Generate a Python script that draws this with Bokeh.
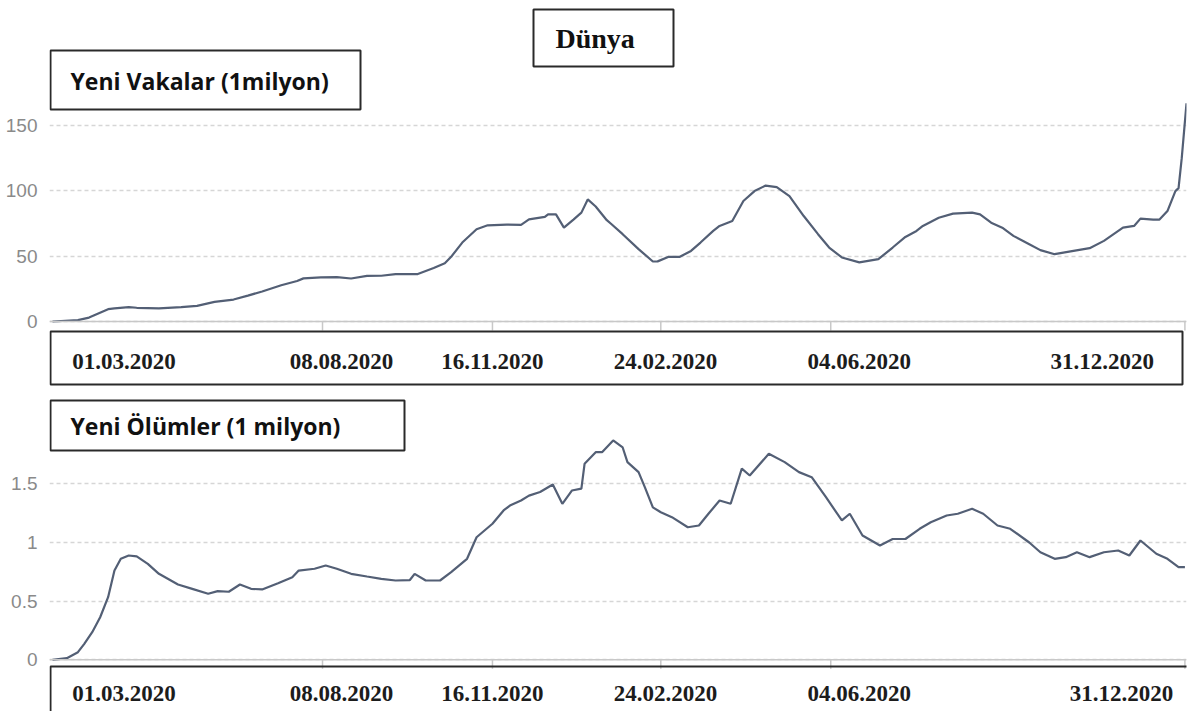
from bokeh.plotting import figure
from bokeh.layouts import column
from bokeh.models import (Range1d, FixedTicker, NumeralTickFormatter, Label,
                          BoxAnnotation, Span)
from bokeh.core.properties import value
from bokeh.embed import file_html
from bokeh.resources import INLINE

# ---------------- data ----------------
case_days = [0, 16, 23, 35, 39, 48, 53, 67, 81, 91, 102, 114, 123, 132, 144, 154,
             158, 169, 179, 188, 198, 207, 216, 230, 240, 247, 251, 258, 267, 274,
             286, 295, 300, 310, 312, 317, 322, 328, 333, 337, 342, 349, 352, 359,
             369, 378, 381, 388, 395, 402, 408, 416, 420, 428, 435, 442, 449, 456,
             464, 473, 482, 489, 497, 508, 520, 529, 537, 544, 548, 558, 567, 579,
             584, 591, 598, 605, 615, 622, 631, 641, 653, 662, 674, 681, 685, 693,
             697, 702, 707, 709, 711, 714]
case_values = [0, 1, 3, 9.4, 10, 11, 10.5, 10, 11, 12, 15, 16.8, 19.8, 23, 27.7, 31,
               33, 33.8, 34, 32.9, 34.9, 35, 36.3, 36.3, 40.9, 44.5, 49.5, 60.4, 70.6, 73.6,
               74.1, 74, 78.2, 80, 82, 82, 71.8, 78, 83.3, 93.4, 88, 77.5, 74.4, 66.8,
               55.4, 45.9, 46, 49.5, 49.5, 54, 60.4, 69.3, 73.1, 76.9, 92.2, 99.8, 104, 102.8,
               96, 80.7, 66.8, 56.6, 49, 45.2, 47.7, 56.6, 64.7, 69.3, 73.1, 79.4, 82.5, 83.3,
               82, 75.6, 71.8, 65.5, 59.1, 54.6, 51.5, 53.6, 56.1, 61.7, 71.8, 73.1, 78.7, 78,
               78, 84.5, 99.8, 102, 125, 167]

death_days = [0, 9, 16, 20, 25, 30, 35, 39, 43, 48, 53, 60, 67, 79, 88, 98, 104, 111,
              118, 125, 132, 142, 151, 155, 165, 172, 179, 188, 198, 207, 216, 225, 228,
              235, 244, 251, 261, 267, 277, 284, 288, 295, 300, 307, 315, 321, 327, 333,
              335, 342, 346, 353, 359, 362, 369, 373, 378, 383, 390, 400, 407, 413, 420,
              427, 434, 439, 451, 461, 470, 478, 487, 497, 502, 510, 521, 529, 537, 546,
              553, 563, 570, 579, 586, 595, 603, 615, 622, 631, 638, 645, 653, 662, 671,
              678, 685, 695, 702, 709, 713]
death_values = [0, 0.014, 0.065, 0.136, 0.235, 0.363, 0.534, 0.761, 0.861, 0.889, 0.881,
                0.818, 0.733, 0.642, 0.605, 0.563, 0.585, 0.58, 0.642, 0.605, 0.6, 0.653,
                0.704, 0.761, 0.776, 0.804, 0.776, 0.733, 0.71, 0.69, 0.676, 0.68, 0.733,
                0.676, 0.676, 0.747, 0.861, 1.045, 1.16, 1.273, 1.315, 1.358, 1.4, 1.43,
                1.494, 1.33, 1.443, 1.459, 1.671, 1.77, 1.77, 1.87, 1.81, 1.685, 1.6, 1.47,
                1.3, 1.258, 1.216, 1.13, 1.145, 1.245, 1.358, 1.33, 1.63, 1.571, 1.756,
                1.685, 1.6, 1.557, 1.386, 1.188, 1.245, 1.06, 0.974, 1.03, 1.03, 1.117,
                1.173, 1.23, 1.245, 1.287, 1.245, 1.145, 1.117, 1.0, 0.917, 0.861, 0.875,
                0.917, 0.875, 0.917, 0.932, 0.889, 1.017, 0.904, 0.861, 0.79, 0.79]

case_ticks = [0, 50, 100, 150]
death_ticks = [0, 0.5, 1, 1.5]
date_labels = ["01.03.2020", "08.08.2020", "16.11.2020", "24.02.2020",
               "04.06.2020", "31.12.2020"]
top_label_days = [45, 182, 277, 386, 508, 661]
bottom_label_days = [45, 182, 277, 386, 508, 673]
axis_tick_days = [170, 277, 383, 490, 713]

main_title = "Dünya"
top_title = "Yeni Vakalar (1milyon)"
bottom_title = "Yeni Ölümler (1 milyon)"

LINE = "#535f75"
BOX = "#2a2a2a"
AXIS = "#c8c8c8"
W = 1190
LEFT = 49      # frame left (px)
RIGHT = 4      # border right (px)
X0 = -1.9      # day shown at frame left
X1 = 714


def make_panel(height, y_start, y_end, days, values, yticks, label_days,
               label_y, tick_len):
    p = figure(width=W, height=height, title=None,
               x_range=Range1d(X0, X1), y_range=Range1d(y_start, y_end),
               x_axis_location=None,
               output_backend="svg", toolbar_location=None,
               min_border_left=LEFT, min_border_right=RIGHT,
               min_border_top=0, min_border_bottom=0)
    p.outline_line_color = None

    yt = FixedTicker(ticks=yticks)
    ax = p.yaxis[0]
    ax.ticker = yt
    ax.formatter = NumeralTickFormatter(format="0.[0]")
    ax.axis_line_color = None
    ax.major_tick_line_color = None
    ax.minor_tick_line_color = None
    ax.major_label_text_font = "Liberation Sans"
    ax.major_label_text_font_size = "19px"
    ax.major_label_text_color = "#8a8a8a"
    ax.major_label_standoff = 6

    p.xgrid.visible = False
    p.ygrid.ticker = yt
    p.ygrid.grid_line_color = "#d6d6d6"
    p.ygrid.grid_line_dash = "4 3"
    p.ygrid.grid_line_width = 1.5

    # baseline of the x axis and its small ticks
    p.add_layout(Span(location=0, dimension="width", line_color=AXIS, line_width=1.5))
    p.segment(x0=axis_tick_days, y0=[0] * len(axis_tick_days),
              x1=axis_tick_days, y1=[-tick_len] * len(axis_tick_days),
              line_color=AXIS, line_width=1.5)

    # date labels
    p.text(x=label_days, y=[label_y] * len(label_days), text=date_labels,
           text_font=value("Liberation Serif"), text_font_style="bold",
           text_font_size="23px", text_align="center", text_baseline="middle",
           text_color="#1c1c1c")

    p.line(days, values, line_color=LINE, line_width=2.2)
    return p


def box(p, left, right, top, bottom):
    p.add_layout(BoxAnnotation(left=left, right=right, top=top, bottom=bottom,
                               left_units="screen", right_units="screen",
                               top_units="screen", bottom_units="screen",
                               fill_color=None, fill_alpha=0,
                               line_color=BOX, line_alpha=1.0, line_width=2))


def label(p, x, y, text, font, size):
    p.add_layout(Label(x=x, y=y, x_units="screen", y_units="screen", text=text,
                       text_font=font, text_font_style="bold", text_font_size=size,
                       text_baseline="middle", text_align="left", text_color="#111111"))


# top panel: 0 at y=321 px, 1.307 px per unit, canvas 0..392
p1 = make_panel(392, -71 / 1.307, 321 / 1.307, case_days, case_values, case_ticks,
                top_label_days, -40 / 1.307, 9 / 1.307)
box(p1, 1, 1133, 61, 8)
box(p1, 1, 311, 342, 283)
label(p1, 21, 312, top_title, "Open Sans", "23px")
box(p1, 484, 624, 383, 326)
label(p1, 506, 354, main_title, "Liberation Serif", "28px")

# bottom panel: 0 at y=659.3 px, 117.3 px per unit, canvas 392..711
p2 = make_panel(319, -51.7 / 117.3, 267.3 / 117.3, death_days, death_values, death_ticks,
                bottom_label_days, -34 / 117.3, 9 / 117.3)
box(p2, 1, 1200, 45, -20)
box(p2, 1, 355, 311, 261)
label(p2, 21, 286, bottom_title, "Open Sans", "23px")

layout = column(p1, p2, spacing=0)
open("out.html", "w").write(file_html(layout, INLINE))
